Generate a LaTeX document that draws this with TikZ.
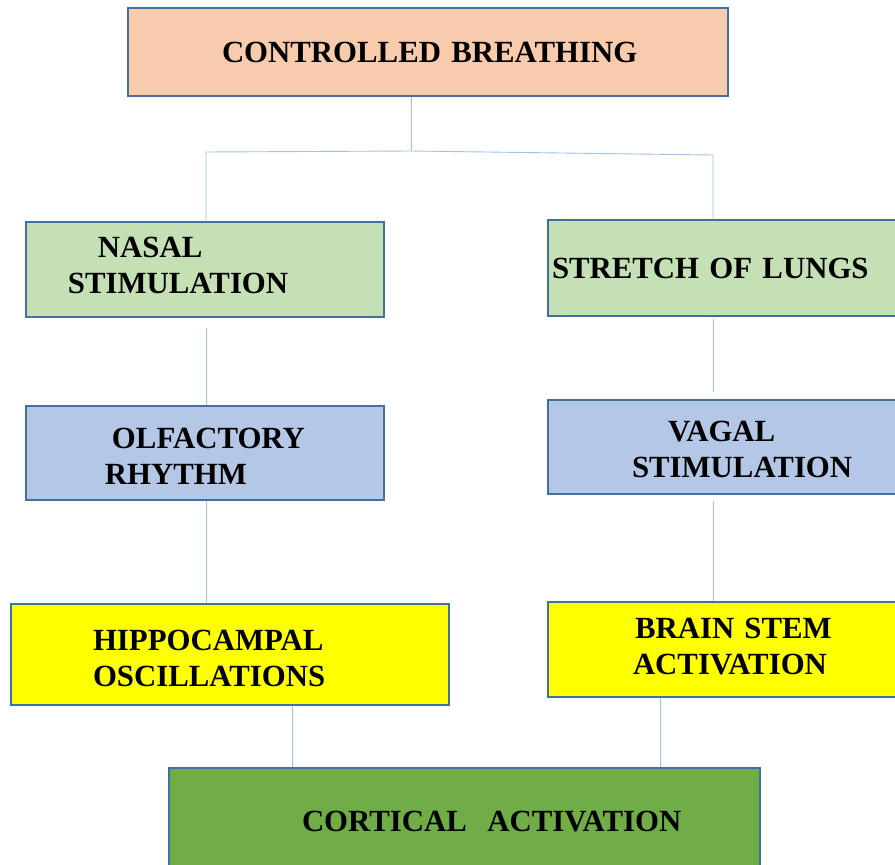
\documentclass[tikz,border=0pt]{standalone}
\usepackage{fontspec}
\setmainfont{Liberation Serif}
\definecolor{bord}{HTML}{41719C}
\definecolor{lineblue}{HTML}{9DC3E6}
\definecolor{peach}{HTML}{F8CBAD}
\definecolor{lgreen}{HTML}{C5E0B4}
\definecolor{lblue}{HTML}{B4C7E7}
\definecolor{yel}{HTML}{FFFF00}
\definecolor{dgreen}{HTML}{70AD47}
\newcommand{\indt}[1]{\hspace*{#1pt}}
\newcommand{\extraD}[1]{\rule[-#1pt]{0pt}{0pt}}
\newcommand{\extraH}[1]{\rule{0pt}{#1pt}}
\begin{document}
\begin{tikzpicture}[x=1pt,y=-1pt,
  box/.style={draw=bord,line width=1.2pt,inner sep=0pt,align=left,
    font=\bfseries\fontsize{30.8}{36}\selectfont},
  conn/.style={draw=lineblue,line width=0.9pt}]
\useasboundingbox (0,0) rectangle (895,865);
\fill[white] (0,0) rectangle (895,865);
% boxes
\node[box,fill=peach,text width=600pt,minimum height=88pt] (top) at (428,52)
  {\indt{94}CONTROLLED BREATHING};
\node[box,fill=lgreen,text width=358pt,minimum height=95pt] (nasal) at (205,269.5)
  {\indt{72}NASAL\\\indt{42}STIMULATION\extraD{9}};
\node[box,fill=lgreen,text width=352pt,minimum height=96pt] (stretch) at (724,268)
  {\indt{4}STRETCH OF LUNGS};
\node[box,fill=lblue,text width=358pt,minimum height=94pt] (olf) at (205,453)
  {\extraH{27.5}\indt{86}OLFACTORY\\\indt{79}RHYTHM};
\node[box,fill=lblue,text width=352pt,minimum height=94pt] (vagal) at (724,447)
  {\extraH{26}\indt{120}VAGAL\\\indt{84}STIMULATION};
\node[box,fill=yel,text width=438pt,minimum height=101pt] (hippo) at (230,654.5)
  {\extraH{29}\indt{82}HIPPOCAMPAL\\\indt{82}OSCILLATIONS};
\node[box,fill=yel,text width=352pt,minimum height=95pt] (brain) at (724,649.5)
  {\indt{87}BRAIN STEM\\\indt{85}ACTIVATION\extraD{7.4}};
\node[box,fill=dgreen,text width=591pt,minimum height=107pt] (cort) at (464.5,821.5)
  {\indt{133}CORTICAL\ \ ACTIVATION};
% connector guides
\coordinate (jc) at (411,151);
\coordinate (jl) at (206,152);
\coordinate (jr) at (713,155);
\coordinate (xl) at (206,0);
\coordinate (xr) at (713,0);
\coordinate (xh) at (292,0);
\coordinate (xb) at (660,0);
% connectors
\draw[conn] (jc |- top.south) -- (jc);
\draw[conn] (jl |- nasal.north) -- (jl) -- (jc) -- (jr) -- (jr |- stretch.north);
\draw[conn] ([yshift=-10pt]nasal.south -| xl) -- (olf.north -| xl);
\draw[conn] ([yshift=-2pt]stretch.south -| xr) -- ([yshift=7pt]vagal.north -| xr);
\draw[conn] (olf.south -| xl) -- (hippo.north -| xl);
\draw[conn] ([yshift=-6pt]vagal.south -| xr) -- (brain.north -| xr);
\draw[conn] (hippo.south -| xh) -- (cort.north -| xh);
\draw[conn] (brain.south -| xb) -- (cort.north -| xb);
\end{tikzpicture}
\end{document}
